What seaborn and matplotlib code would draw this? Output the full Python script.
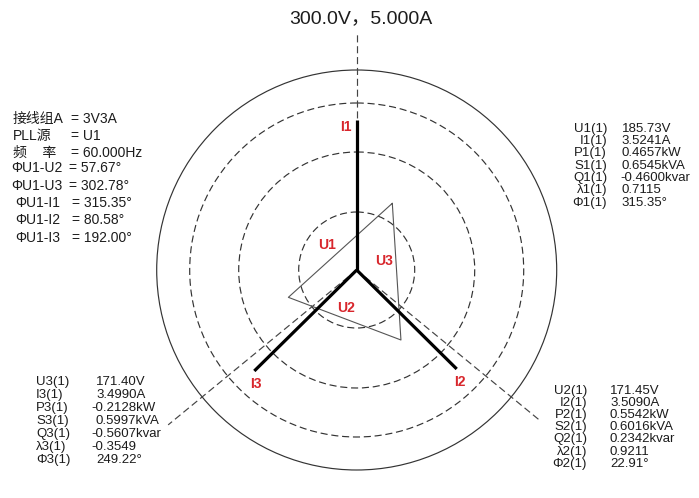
import numpy as np
import pandas as pd
import matplotlib
matplotlib.use("Agg")
import matplotlib.pyplot as plt
from matplotlib.patches import Circle
import seaborn as sns

# ---- data -------------------------------------------------------------
scale_label = "300.0V，5.000A"

# dial rings (radius in canvas px), first one solid, others dashed
ring_radii = [200, 167, 118, 58]
ring_dashed = [False, True, True, True]

# fundamental current phasors
current_names = ["I1", "I2", "I3"]
current_angles = [90.0, 315.3, 224.6]      # degrees, counter-clockwise
current_lengths = [150.0, 140.7, 143.8]

# dashed reference axes
axis_angles = [90.0, 320.6, 219.4]
axis_lengths = [236.0, 238.0, 244.0]

# voltage triangle vertices (polar)
tri_angles = [61.9, 201.8, 302.3]
tri_radii = [75.6, 73.6, 82.8]
voltage_names = ["U1", "U2", "U3"]

# wiring / phase-angle summary
info_names = ["接线组A", "PLL源", "频    率", "ΦU1-U2", "ΦU1-U3", "ΦU1-I1", "ΦU1-I2", "ΦU1-I3"]
info_values = ["3V3A", "U1", "60.000Hz", "57.67°", "302.78°", "315.35°", "80.58°", "192.00°"]

# per-phase measurements
ch1_names = ["U1(1)", "I1(1)", "P1(1)", "S1(1)", "Q1(1)", "λ1(1)", "Φ1(1)"]
ch1_values = ["185.73V", "3.5241A", "0.4657kW", "0.6545kVA", "-0.4600kvar", "0.7115", "315.35°"]

ch2_names = ["U2(1)", "I2(1)", "P2(1)", "S2(1)", "Q2(1)", "λ2(1)", "Φ2(1)"]
ch2_values = ["171.45V", "3.5090A", "0.5542kW", "0.6016kVA", "0.2342kvar", "0.9211", "22.91°"]

ch3_names = ["U3(1)", "I3(1)", "P3(1)", "S3(1)", "Q3(1)", "λ3(1)", "Φ3(1)"]
ch3_values = ["171.40V", "3.4990A", "-0.2128kW", "0.5997kVA", "-0.5607kvar", "-0.3549", "249.22°"]

# ---- figure -----------------------------------------------------------
sns.set_theme(style="white")
plt.rcParams["font.family"] = ["Liberation Sans", "Noto Sans CJK SC"]

fig = plt.figure(figsize=(6.99, 4.98), dpi=100)
ax = fig.add_axes([0, 0, 1, 1])

cx, cy = 356.7, 270.0
TXT = "#1c1c1c"
RED = "#d8262c"
DASH = (0, (6, 3.2))
BLOCK_FS = 9.5


def polar(r, deg):
    a = np.deg2rad(deg)
    return cx + r * np.cos(a), cy - r * np.sin(a)


# rings
for r, dashed in zip(ring_radii, ring_dashed):
    ax.add_patch(Circle((cx, cy), r, fill=False, color="#333333", lw=0.85,
                        linestyle=DASH if dashed else "-", zorder=1))

# dashed reference axes
rows = []
for i, (ang, L) in enumerate(zip(axis_angles, axis_lengths)):
    for r in (0.0, L):
        x, y = polar(r, ang)
        rows.append({"axis": i, "x": x, "y": y})
axes_df = pd.DataFrame(rows)
sns.lineplot(data=axes_df, x="x", y="y", units="axis", estimator=None, sort=False,
             color="#444444", lw=0.85, linestyle=DASH, legend=False, ax=ax, zorder=2)

# voltage triangle
tri = [polar(r, a) for r, a in zip(tri_radii, tri_angles)]
tri_df = pd.DataFrame({"x": [p[0] for p in tri] + [tri[0][0]],
                       "y": [p[1] for p in tri] + [tri[0][1]],
                       "seg": 0})
sns.lineplot(data=tri_df, x="x", y="y", units="seg", estimator=None, sort=False,
             color="#555555", lw=0.8, legend=False, ax=ax, zorder=3)

# current phasors
rows = []
for name, ang, L in zip(current_names, current_angles, current_lengths):
    for r in (0.0, L):
        x, y = polar(r, ang)
        rows.append({"phase": name, "x": x, "y": y})
cur_df = pd.DataFrame(rows)
sns.lineplot(data=cur_df, x="x", y="y", units="phase", estimator=None, sort=False,
             color="black", lw=2.3, legend=False, ax=ax, zorder=4,
             solid_capstyle="butt")

ax.set_xlim(0, 699)
ax.set_ylim(498, 0)
ax.set_axis_off()

# phasor labels
cur_label_pos = {"I1": (345.5, 126.5), "I2": (459.5, 382.0), "I3": (255.5, 383.5)}
for name in current_names:
    ax.text(*cur_label_pos[name], name, color=RED, fontsize=10, fontweight="bold",
            ha="center", va="center", zorder=5)
volt_label_pos = {"U1": (327.3, 244.5), "U2": (345.7, 308.0), "U3": (384.3, 261.0)}
for name in voltage_names:
    ax.text(*volt_label_pos[name], name, color=RED, fontsize=10, fontweight="bold",
            ha="center", va="center", zorder=5)

# full-scale caption
ax.text(360.7, 18.5, scale_label, fontsize=14, color=TXT, ha="center", va="center")

# summary block (top left)
info_y = [119.0, 135.5, 152.5, 167.5, 185.5, 202.5, 220.0, 237.5]
for i, (n, v) in enumerate(zip(info_names, info_values)):
    if i < 3:
        xn, xe = 12.7, 71.0
    elif i < 5:
        xn, xe = 11.7, 69.0
    else:
        xn, xe = 15.0, 71.8
    ax.text(xn, info_y[i], n, fontsize=10, color=TXT, ha="left", va="center")
    ax.text(xe, info_y[i], "= " + v, fontsize=10, color=TXT, ha="left", va="center")


def block(names, values, y0, dy, name_x, name_ha, val_x, neg_shift=0.0):
    for i, (n, v) in enumerate(zip(names, values)):
        y = y0 + i * dy
        ax.text(name_x, y, n, fontsize=BLOCK_FS, color=TXT, ha=name_ha, va="center")
        vx = val_x - (neg_shift if v.startswith("-") else 0.0)
        ax.text(vx, y, v, fontsize=BLOCK_FS, color=TXT, ha="left", va="center")


block(ch1_names, ch1_values, 128.5, 12.35, 607.0, "right", 621.5, neg_shift=1.5)
block(ch2_names, ch2_values, 391.0, 12.1, 587.0, "right", 610.0)
block(ch3_names, ch3_values, 382.0, 13.05, 36.0, "left", 96.0, neg_shift=4.5)

fig.savefig("out.png", dpi=100)
